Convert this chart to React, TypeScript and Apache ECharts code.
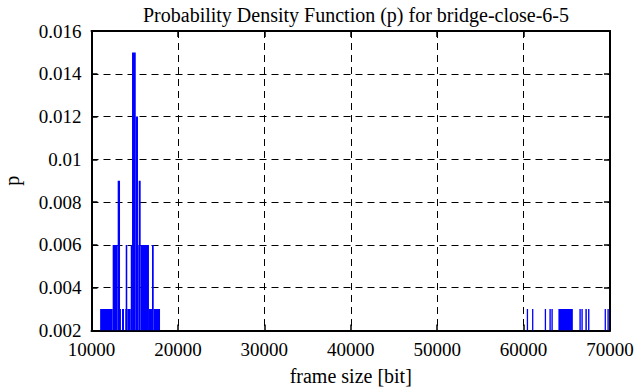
import React, { useEffect, useRef } from "react";
import * as echarts from "echarts";

const titleText = "Probability Density Function (p) for bridge-close-6-5";
const xLabel = "frame size [bit]";
const yLabel = "p";

const binStart = [
  11000, 12450, 13030, 13300, 13530, 13880, 13960, 14140, 14540, 14690, 15120, 15380, 15460, 15690, 16650, 17000, 17200,
  60370, 60980, 62450, 62990, 63220, 64030, 66460, 66690, 67150, 67460, 69380, 69700,
];
const binEnd = [
  12450, 13030, 13300, 13410, 13760, 13960, 14140, 14540, 14690, 15120, 15380, 15460, 15690, 16650, 17000, 17200, 17930,
  60520, 61130, 62600, 63150, 63380, 65700, 66620, 66850, 67320, 67620, 69530, 69860,
];
const binP = [
  0.003, 0.006, 0.009, 0.003, 0.003, 0.003, 0.006, 0.003, 0.006, 0.015, 0.012, 0.006, 0.009, 0.006, 0.003, 0.006, 0.003,
  0.003, 0.003, 0.003, 0.003, 0.003, 0.003, 0.003, 0.003, 0.003, 0.003, 0.003, 0.003,
];

const X_MIN = 10000;
const X_MAX = 70000;
const X_STEP = 10000;
const Y_MIN = 0.002;
const Y_MAX = 0.016;
const Y_STEP = 0.002;

const FONT = "'Liberation Serif', 'Times New Roman', serif";

export default function App() {
  const ref = useRef<HTMLDivElement>(null);
  useEffect(() => {
    if (!ref.current) return;
    const chart = echarts.init(ref.current, undefined, { renderer: "svg" });
    const data = binStart.map((s, i) => [s, binEnd[i], binP[i]]);
    const axisLine = { show: true, lineStyle: { color: "#000", width: 2 } };
    const axisTick = { show: true, inside: true, length: 6, lineStyle: { color: "#000", width: 1.5 } };
    const split = { show: true, lineStyle: { color: "#000", width: 1, type: [7, 5] as any } };
    const label = { color: "#000", fontFamily: FONT, fontSize: 19 };
    chart.setOption({
      animation: false,
      backgroundColor: "#fff",
      title: {
        text: titleText,
        left: 351,
        textAlign: "center",
        top: 0,
        textStyle: { fontFamily: FONT, fontSize: 20, fontWeight: "normal", color: "#000" },
      },
      grid: {
        left: 91.5,
        right: 26,
        top: 31,
        bottom: 56.5,
        containLabel: false,
        outerBoundsMode: "none",
      },
      xAxis: [
        {
          type: "value",
          min: X_MIN,
          max: X_MAX,
          interval: X_STEP,
          position: "bottom",
          axisLine,
          axisTick,
          splitLine: split,
          axisLabel: { ...label, margin: 9, formatter: (v: number) => String(v) },
          name: xLabel,
          nameLocation: "middle",
          nameGap: 35,
          nameTextStyle: { ...label, fontSize: 20 },
        },
        {
          type: "value",
          min: X_MIN,
          max: X_MAX,
          interval: X_STEP,
          position: "top",
          axisLine,
          axisTick,
          splitLine: { show: false },
          axisLabel: { show: false },
        },
      ],
      yAxis: [
        {
          type: "value",
          min: Y_MIN,
          max: Y_MAX,
          interval: Y_STEP,
          position: "left",
          axisLine,
          axisTick,
          splitLine: split,
          axisLabel: { ...label, margin: 10, formatter: (v: number) => String(parseFloat(v.toFixed(3))) },
          name: yLabel,
          nameLocation: "middle",
          nameGap: 70,
          nameRotate: 90,
          nameTextStyle: { ...label, fontSize: 20 },
        },
        {
          type: "value",
          min: Y_MIN,
          max: Y_MAX,
          interval: Y_STEP,
          position: "right",
          axisLine,
          axisTick,
          splitLine: { show: false },
          axisLabel: { show: false },
        },
      ],
      series: [
        {
          type: "custom",
          clip: true,
          encode: { x: [0, 1], y: 2 },
          data,
          renderItem: (params: any, api: any) => {
            const x0 = api.value(0);
            const x1 = api.value(1);
            const y = api.value(2);
            const p0 = api.coord([x0, y]);
            const p1 = api.coord([x1, Y_MIN]);
            return {
              type: "rect",
              shape: { x: p0[0], y: p0[1], width: p1[0] - p0[0], height: p1[1] - p0[1] },
              style: { fill: "#0000ff", stroke: null },
            };
          },
          z: 1,
        },
      ],
    });
    return () => chart.dispose();
  }, []);
  return <div ref={ref} style={{ position: "absolute", left: 0, top: 0, width: 636, height: 387 }} />;
}
